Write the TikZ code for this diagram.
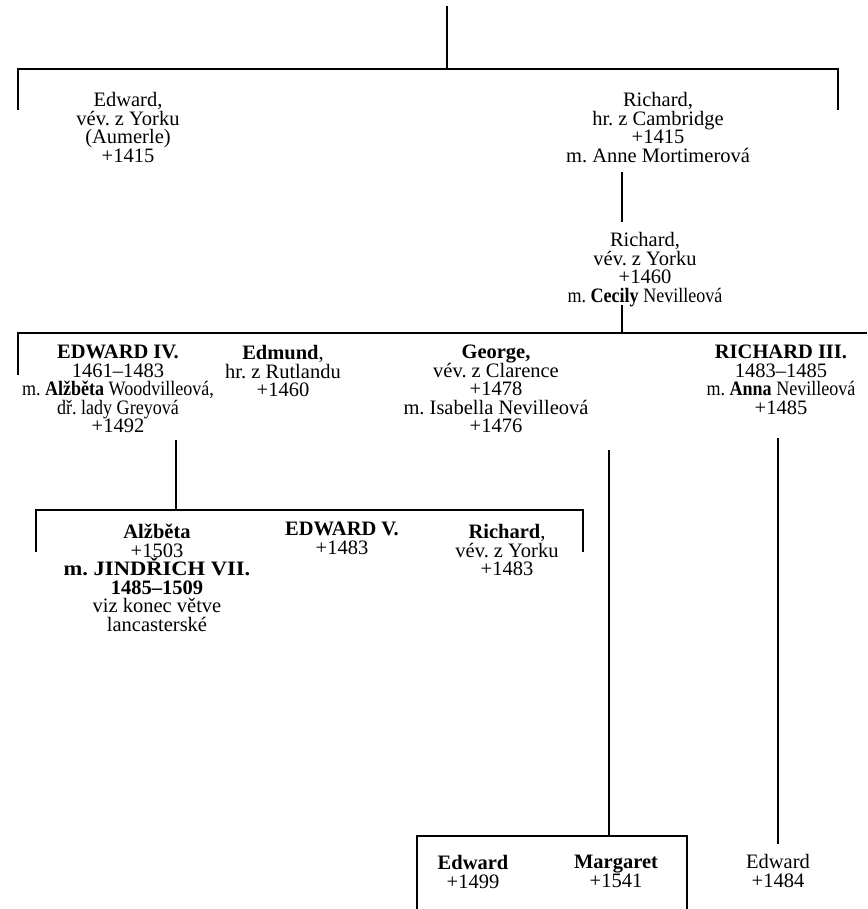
\documentclass[tikz,border=0pt]{standalone}
\usepackage{fontspec}
\usepackage{graphicx}
\setmainfont{Liberation Serif}
\setlength{\lineskiplimit}{-20pt}
\frenchspacing

\newcommand{\narrow}[1]{\scalebox{0.88}[1]{#1}}
\newcommand{\wide}[1]{\scalebox{1.1}[1]{#1}}

\begin{document}
\begin{tikzpicture}
    [x=1pt,y=-1pt,line width=2.6pt,
     person/.style={align=center,anchor=north,inner sep=0pt,
       font=\fontsize{20.5}{18.5}\selectfont,
       execute at begin node={\rule{0pt}{15pt}}}]
    \useasboundingbox (0,0) rectangle (867,909);

    %Nodes
    \node[person] (edA) at (128,91) {Edward,\\vév. z Yorku\\(Aumerle)\\+1415};
    \node[person] (richC) at (658,91) {Richard,\\hr. z Cambridge\\+1415\\m. Anne Mortimerová};
    \node[person] (richY) at (645,231) {Richard,\\vév. z Yorku\\+1460\\\narrow{m. \textbf{Cecily} Nevilleová}};

    \node[person] (ed4) at (118,344) {\textbf{EDWARD IV.}\\1461--1483\\\narrow{m. \textbf{Alžběta} Woodvilleová,}\\\narrow{dř. lady Greyová}\\+1492};
    \node[person] (edm) at (283,344) {\textbf{Edmund},\\hr. z Rutlandu\\+1460};
    \node[person] (geo) at (496,344) {\textbf{George,}\\vév. z Clarence\\+1478\\m. Isabella Nevilleová\\+1476};
    \node[person] (ric3) at (781,344) {\textbf{RICHARD III.}\\1483--1485\\\narrow{m. \textbf{Anna} Nevilleová}\\+1485};

    \node[person] (alz) at (157,523) {\textbf{Alžběta}\\+1503\\\wide{\textbf{m. JINDŘICH VII.}}\\\textbf{1485--1509}\\viz konec větve\\lancasterské};
    \node[person] (ed5) at (342,521) {\textbf{EDWARD V.}\\+1483};
    \node[person] (ricY) at (507,523) {\textbf{Richard},\\vév. z Yorku\\+1483};

    \node[person] (ed99) at (473,854) {\textbf{Edward}\\+1499};
    \node[person] (marg) at (616,854) {\textbf{Margaret}\\+1541};
    \node[person] (ed84) at (778,853) {Edward\\+1484};

    %Junctions
    \coordinate (root) at (447,6);
    \coordinate (j1) at (447,69);
    \coordinate (j1l) at (18,110);
    \coordinate (j1r) at (838,110);
    \coordinate (c1) at (622,172);
    \coordinate (c2) at (622,222);
    \coordinate (y1) at (622,305);
    \coordinate (j2) at (622,333);
    \coordinate (j2l) at (18,375);
    \coordinate (j2r) at (867,333);
    \coordinate (e4) at (176,440);
    \coordinate (j3) at (176,510);
    \coordinate (j3l) at (36,552);
    \coordinate (j3r) at (583,552);
    \coordinate (gb) at (609,450);
    \coordinate (j4) at (609,836);
    \coordinate (j4l) at (417,909);
    \coordinate (j4r) at (687,909);
    \coordinate (r3) at (778,438);

    %Edges
    \draw (root) -- (j1);
    \draw (j1l) |- (j1) -| (j1r);
    \draw (c1) -- (c2);
    \draw (y1) -- (j2);
    \draw (j2l) |- (j2r);
    \draw (e4) -- (j3);
    \draw (j3l) |- (j3) -| (j3r);
    \draw (gb) -- (j4);
    \draw (j4l) |- (j4) -| (j4r);
    \draw[shorten >=9pt] (r3) -- (ed84.north);

\end{tikzpicture}
\end{document}
